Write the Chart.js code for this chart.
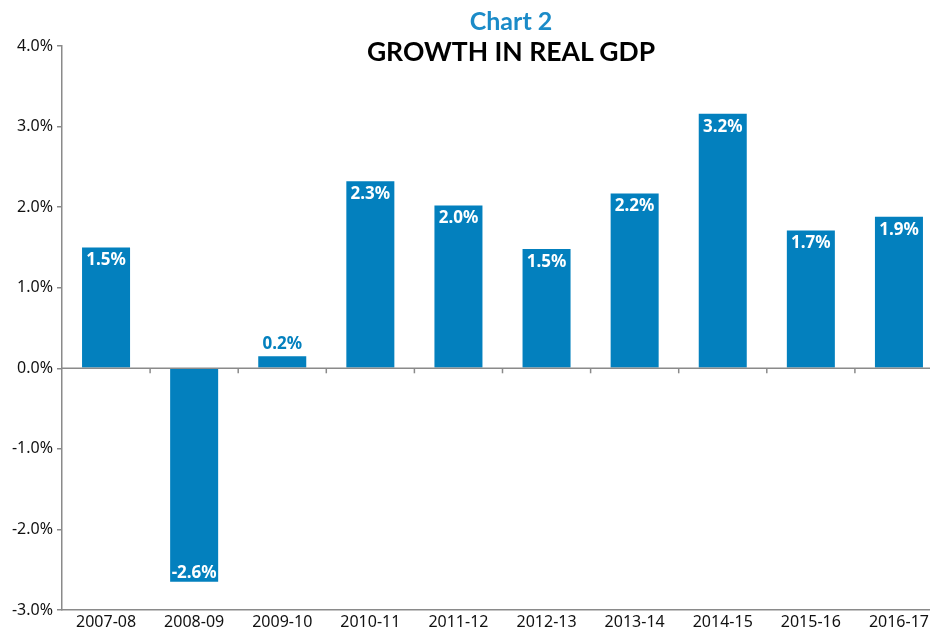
<!DOCTYPE html>
<html><head><meta charset="utf-8">
<script src="https://cdn.jsdelivr.net/npm/chart.js@4"></script>
<style>
html,body{margin:0;padding:0;background:#fff;overflow:hidden;width:930px;height:633px}
#wrap{position:relative;width:943px;height:633px}
#t1{position:absolute;left:0;width:1022px;top:5px;text-align:center;font:bold 25px Lato, sans-serif;color:#1B8BC8}
#t2{position:absolute;left:0;width:1022px;top:35px;text-align:center;font:bold 26.5px Lato, sans-serif;color:#000}
</style></head><body>
<div id="wrap"><canvas id="c"></canvas>
<div id="t1">Chart 2</div><div id="t2">GROWTH IN REAL GDP</div></div>
<script>
const categories = ["2007-08","2008-09","2009-10","2010-11","2011-12","2012-13","2013-14","2014-15","2015-16","2016-17"];
const growth = [1.5, -2.65, 0.15, 2.32, 2.02, 1.48, 2.17, 3.16, 1.71, 1.88];
const valueLabels = ["1.5%","-2.6%","0.2%","2.3%","2.0%","1.5%","2.2%","3.2%","1.7%","1.9%"];
const yTicks = [-3,-2,-1,0,1,2,3,4];

const BLUE = '#0380BE';
const FONT = '"Noto Sans"';
const labelPlugin = {
  id:'labels',
  afterDatasetsDraw(chart){
    const ctx = chart.ctx, meta = chart.getDatasetMeta(0), y = chart.scales.y, x = chart.scales.x;
    const ca = chart.chartArea;
    const y0 = y.getPixelForValue(0);
    ctx.save();
    ctx.strokeStyle = '#8a8a8a'; ctx.lineWidth = 1.5;
    ctx.beginPath(); ctx.moveTo(ca.left, y0); ctx.lineTo(ca.right, y0); ctx.stroke();
    for (let i=1;i<categories.length;i++){
      const px = (x.getPixelForValue(i-1)+x.getPixelForValue(i))/2;
      ctx.beginPath(); ctx.moveTo(px, y0); ctx.lineTo(px, y0+5); ctx.stroke();
    }
    ctx.font = 'bold 17px ' + FONT + ', sans-serif';
    ctx.textAlign='center'; ctx.textBaseline='middle';
    meta.data.forEach((bar,i)=>{
      const v = growth[i];
      let ty, col='#fff';
      if (Math.abs(v) < 0.5){ ty = bar.y - 12; col = BLUE; }
      else if (v>0) ty = bar.y + 13;
      else ty = bar.y - 9;
      ctx.fillStyle = col;
      ctx.fillText(valueLabels[i], bar.x, ty);
    });
    ctx.restore();
  }
};

function build(){
new Chart(document.getElementById('c'),{
  type:'bar',
  data:{labels:categories,datasets:[{data:growth,backgroundColor:BLUE,barPercentage:0.545,categoryPercentage:1}]},
  options:{
    responsive:true, maintainAspectRatio:false, animation:false,
    layout:{padding:{top:46,right:0,left:0,bottom:0}},
    plugins:{legend:{display:false},tooltip:{enabled:false},title:{display:false}},
    scales:{
      x:{
        grid:{display:false, drawTicks:false},
        border:{display:true,color:'#8a8a8a',width:1.5},
        ticks:{color:'#111',font:{family:FONT,size:16},padding:3,maxRotation:0,autoSkip:false},
        afterFit(s){ s.height = 23; }
      },
      y:{
        min:-3,max:4,
        afterBuildTicks(s){ s.ticks = yTicks.map(v=>({value:v})); },
        grid:{drawOnChartArea:false,drawTicks:true,tickLength:5,color:'#8a8a8a',lineWidth:1.5},
        border:{display:true,color:'#8a8a8a',width:1.5},
        ticks:{color:'#111',font:{family:FONT,size:16},padding:4,callback:v=>v.toFixed(1)+'%'},
        afterFit(s){ s.width = 62; }
      }
    }
  },
  plugins:[labelPlugin]
});
}
Promise.all([
  document.fonts.load('16px "Noto Sans"'),
  document.fonts.load('bold 17px "Noto Sans"'),
  document.fonts.load('bold 25px Lato')
]).then(build, build);
</script></body></html>
